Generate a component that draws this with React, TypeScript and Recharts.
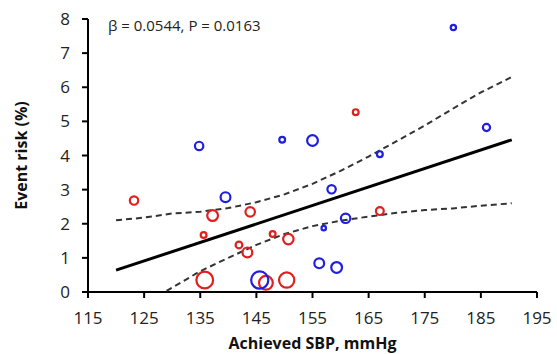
import { ScatterChart, Scatter, XAxis, YAxis, ZAxis, Label } from "recharts";

// achieved SBP (mmHg), event risk (%), weight (bubble size) per trial arm
const redSbp = [123.2, 137.2, 143.9, 135.6, 147.9, 150.7, 141.9, 143.4, 135.8, 146.7, 150.4, 162.7, 167];
const redRisk = [2.68, 2.24, 2.35, 1.67, 1.7, 1.55, 1.38, 1.16, 0.35, 0.27, 0.35, 5.27, 2.37];
const redWeight = [28, 42, 34, 16, 16, 40, 20, 36, 90, 64, 76, 16, 25];

const blueSbp = [134.8, 149.6, 155, 167, 180.1, 186, 139.5, 158.4, 160.9, 157, 156.2, 159.3, 145.6];
const blueRisk = [4.28, 4.46, 4.44, 4.04, 7.75, 4.82, 2.78, 3.01, 2.16, 1.87, 0.84, 0.72, 0.35];
const blueWeight = [28, 16, 42, 16, 14, 22, 36, 28, 34, 11, 36, 42, 94];

// regression line and 95% confidence band
const fitSbp = [120, 190.5];
const fitRisk = [0.64, 4.46];
const upperSbp = [120, 125, 130, 135, 140, 145, 150, 155, 160, 165, 170, 175, 180, 185, 190.5];
const upperRisk = [2.1, 2.18, 2.3, 2.35, 2.46, 2.63, 2.86, 3.17, 3.55, 3.97, 4.42, 4.88, 5.37, 5.85, 6.3];
const lowerSbp = [129, 130, 135, 140, 145, 150, 155, 160, 165, 170, 175, 180, 185, 190.5];
const lowerRisk = [0.03, 0.13, 0.61, 1.0, 1.38, 1.7, 1.93, 2.09, 2.21, 2.32, 2.4, 2.45, 2.53, 2.6];

const xTicks = [115, 125, 135, 145, 155, 165, 175, 185, 195];
const yTicks = [0, 1, 2, 3, 4, 5, 6, 7, 8];

const toPoints = (xs: number[], ys: number[], zs?: number[]) =>
  xs.map((x, i) => ({ x, y: ys[i], z: zs ? zs[i] : 0 }));

const redData = toPoints(redSbp, redRisk, redWeight);
const blueData = toPoints(blueSbp, blueRisk, blueWeight);
const fitData = toPoints(fitSbp, fitRisk);
const upperData = toPoints(upperSbp, upperRisk);
const lowerData = toPoints(lowerSbp, lowerRisk);

const FONT = "'Open Sans', sans-serif";

const ring = (color: string) => (props: any) => {
  const size = props.size ?? Math.PI * Math.pow((props.width ?? 8) / 2, 2);
  const r = Math.max(Math.sqrt(size / Math.PI) - 1.1, 1);
  return (
    <circle cx={props.cx} cy={props.cy} r={r} fill="none" stroke={color} strokeWidth={2.2} />
  );
};

const noDot = () => <g />;

export default function App() {
  return (
    <div style={{ position: "absolute", left: 0, top: 0 }}>
      <ScatterChart
        width={557}
        height={354}
        margin={{ top: 19, right: 20, left: 8, bottom: 0 }}
      >
        <XAxis
          type="number"
          dataKey="x"
          domain={[115, 195]}
          ticks={xTicks}
          interval={0}
          stroke="#000"
          strokeWidth={2}
          tickSize={6}
          tickMargin={14}
          height={62}
          tick={{ fill: "#222", fontSize: 17, fontFamily: FONT }}
        >
          <Label
            value="Achieved SBP, mmHg"
            position="insideBottom"
            offset={5}
            style={{ fill: "#111", fontSize: 16, fontWeight: 700, fontFamily: FONT }}
          />
        </XAxis>
        <YAxis
          type="number"
          dataKey="y"
          domain={[0, 8]}
          ticks={yTicks}
          interval={0}
          stroke="#000"
          strokeWidth={2}
          tickSize={6}
          tickMargin={12}
          width={80}
          tick={{ fill: "#222", fontSize: 17, fontFamily: FONT }}
        >
          <Label
            value="Event risk (%)"
            angle={-90}
            position="insideLeft"
            offset={13}
            style={{ fill: "#111", fontSize: 16, fontWeight: 700, fontFamily: FONT, textAnchor: "middle" }}
          />
        </YAxis>
        <ZAxis type="number" dataKey="z" domain={[0, 100]} range={[0, 100 * Math.PI]} />

        <Scatter
          data={upperData}
          line={{ stroke: "#333", strokeWidth: 2, strokeDasharray: "6 4" }}
          shape={noDot}
          isAnimationActive={false}
        />
        <Scatter
          data={lowerData}
          line={{ stroke: "#333", strokeWidth: 2, strokeDasharray: "6 4" }}
          shape={noDot}
          isAnimationActive={false}
        />
        <Scatter
          data={fitData}
          line={{ stroke: "#000", strokeWidth: 3 }}
          shape={noDot}
          isAnimationActive={false}
        />
        <Scatter data={redData} shape={ring("#e01f1f")} isAnimationActive={false} />
        <Scatter data={blueData} shape={ring("#1f1fe0")} isAnimationActive={false} />

        <text x={108} y={31} fontSize={15} fontFamily={FONT} fill="#222">
          β = 0.0544, P = 0.0163
        </text>
      </ScatterChart>
    </div>
  );
}
